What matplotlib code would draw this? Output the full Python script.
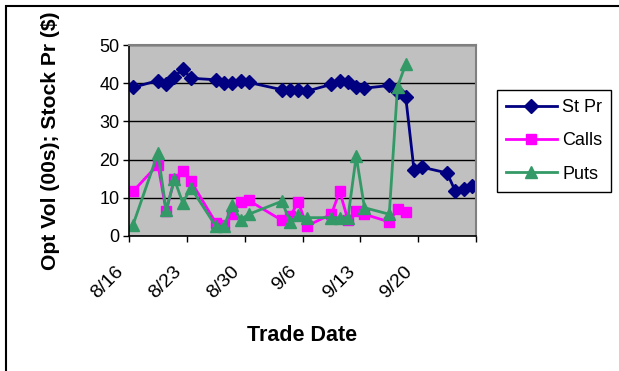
import datetime as dt
import matplotlib
matplotlib.use('Agg')
import matplotlib.pyplot as plt
import matplotlib.dates as mdates
from matplotlib.patches import Rectangle
from matplotlib.transforms import ScaledTranslation

plt.rcParams['font.family'] = ['Liberation Sans', 'DejaVu Sans']

# Trading days (2002), one entry per session
trade_days = ['8/16', '8/19', '8/20', '8/21', '8/22', '8/23', '8/26', '8/27', '8/28', '8/29',
              '8/30', '9/3', '9/4', '9/5', '9/6', '9/9', '9/10', '9/11', '9/12', '9/13',
              '9/16', '9/17', '9/18', '9/19', '9/20', '9/23', '9/24', '9/25', '9/26']

stock_price = [38.9, 40.7, 39.8, 41.7, 43.7, 41.3, 40.9, 40.0, 40.0, 40.6,
               40.2, 38.3, 38.3, 38.3, 37.9, 39.7, 40.7, 40.3, 38.9, 38.7,
               39.4, 37.6, 36.3, 17.2, 18.0, 16.5, 11.7, 12.3, 13.0]

# option volumes only run through 9/18
call_vol = [11.7, 18.7, 6.5, 15.0, 17.0, 14.3, 3.5, 3.0, 5.7, 9.0,
            9.3, 4.1, 5.2, 8.9, 2.6, 5.7, 11.7, 4.2, 6.5, 5.7,
            3.7, 7.1, 6.3]
put_vol = [3.0, 21.7, 6.8, 14.8, 8.7, 12.6, 2.6, 2.6, 8.0, 4.3,
           5.7, 9.1, 3.7, 5.4, 4.8, 4.8, 4.8, 4.8, 20.9, 7.4,
           5.7, 39.1, 45.0]

week_labels = ['8/16', '8/23', '8/30', '9/6', '9/13', '9/20', '']


def to_num(s):
    m, d = s.split('/')
    return mdates.date2num(dt.date(2002, int(m), int(d)))


x = [to_num(s) for s in trade_days]
# each day sits in the middle of its slot, week ticks on the slot boundaries
week_ticks = [to_num('8/16') - 0.5 + 7 * i for i in range(len(week_labels))]

fig = plt.figure(figsize=(6.19, 3.71), dpi=100)
fig.patches.append(Rectangle((6 / 619, -0.1), 1.2, 1 - 6 / 371 + 0.1, transform=fig.transFigure,
                             fill=False, edgecolor='black', linewidth=1.5))

ax = fig.add_axes([129 / 619, 1 - 236 / 371, 347 / 619, 191 / 371])
ax.set_facecolor('#C0C0C0')

ax.plot(x, stock_price, color='#000080', marker='D', markersize=7, linewidth=2, label='St Pr')
ax.plot(x[:len(call_vol)], call_vol, color='#FF00FF', marker='s', markersize=7.5, linewidth=2, label='Calls')
ax.plot(x[:len(put_vol)], put_vol, color='#339966', marker='^', markersize=8.5, linewidth=2, label='Puts')

ax.set_ylim(0, 50)
ax.set_yticks(range(0, 51, 10))
ax.set_xlim(week_ticks[0], week_ticks[-1])
ax.set_xticks(week_ticks)
ax.set_xticklabels(week_labels, rotation=45, ha='right', rotation_mode='anchor')

ax.yaxis.grid(True, color='black', linewidth=1)
ax.set_axisbelow(True)
ax.tick_params(axis='both', direction='out', length=4, width=1, labelsize=13, colors='black')
ax.tick_params(axis='x', pad=6, labelsize=14)
ax.tick_params(axis='y', pad=3)

# nudge the slanted date labels down and to the left of their ticks
shift = ScaledTranslation(-14 / 100, -13 / 100, fig.dpi_scale_trans)
for lbl in ax.get_xticklabels():
    lbl.set_transform(lbl.get_transform() + shift)

for side in ('top', 'right'):
    ax.spines[side].set_color('#808080')
    ax.spines[side].set_linewidth(1.5)
for side in ('left', 'bottom'):
    ax.spines[side].set_color('black')
    ax.spines[side].set_linewidth(1.2)

ax.set_xlabel('Trade Date', fontsize=15.5, fontweight='bold')
ax.xaxis.set_label_coords(0.5, -0.466)
ax.set_ylabel('Opt Vol (00s); Stock Pr ($)', fontsize=15.2, fontweight='bold', labelpad=28)

leg = ax.legend(loc='upper left', bbox_to_anchor=(497 / 619, 1 - 90 / 371), bbox_transform=fig.transFigure,
                fontsize=13, frameon=True, fancybox=False, edgecolor='black', framealpha=1,
                handlelength=2.8, handletextpad=0.3, labelspacing=0.9, borderpad=0.5, borderaxespad=0)
leg.get_frame().set_linewidth(1)

fig.savefig('out.png', dpi=100)
